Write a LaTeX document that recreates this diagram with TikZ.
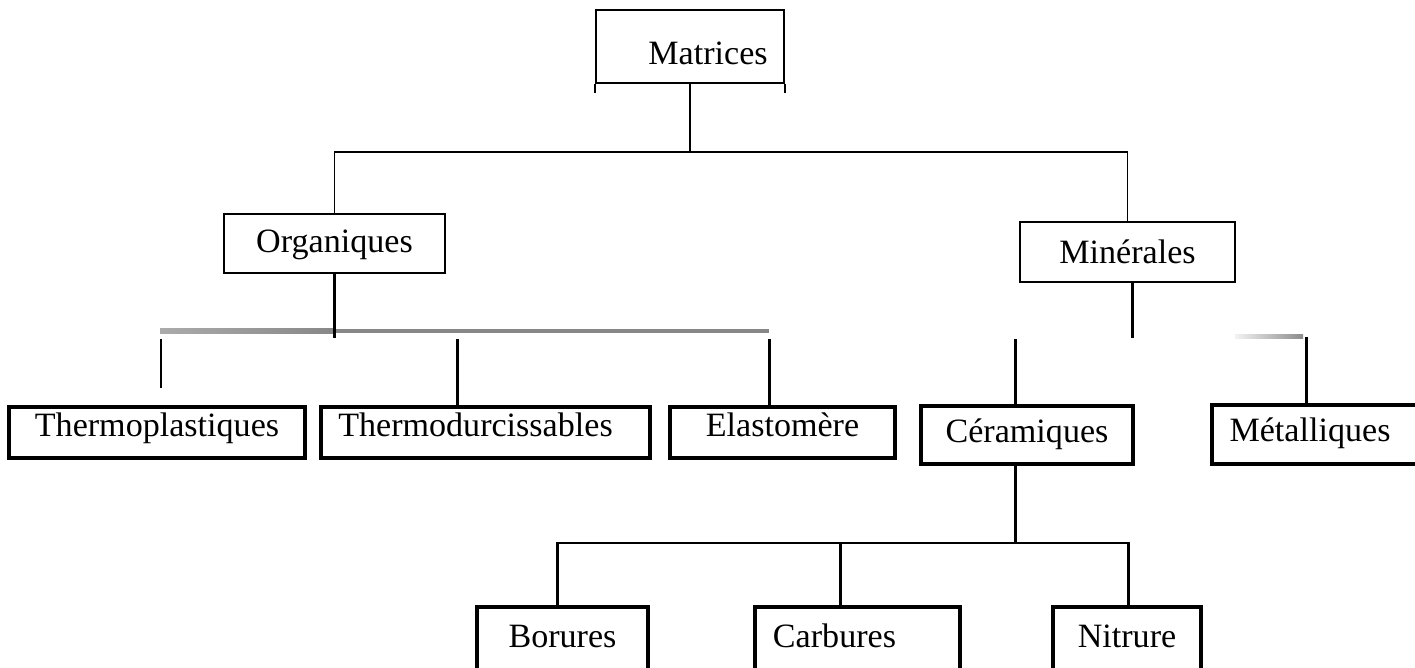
\documentclass[tikz,border=0pt]{standalone}
\usepackage{fontspec}
\setmainfont{Liberation Serif}

\begin{document}
\begin{tikzpicture}[x=0.02cm, y=-0.02cm,
    every node/.style={font=\fontsize{19.4pt}{23pt}\selectfont, inner sep=0pt,
      text height=13pt, text depth=8pt},
    topbox/.style={draw, line width=1.15pt},
    subbox/.style={draw, line width=1.85pt},
    thinline/.style={line width=0.95pt},
    thickline/.style={line width=1.7pt},
    barshade/.style={left color=black!33, right color=black!47}]

    \useasboundingbox (0,0) rectangle (1415,668);
    \clip (0,0) rectangle (1415,668);

    % Matrices
    \node[topbox, minimum width=3.76cm, minimum height=1.46cm,
      text height=21pt, text depth=0pt] (mat) at (690,46.5) {\hspace*{0.72cm}Matrices};
    \draw[line width=1.15pt] (mat.south west) -- ++(0,9);
    \draw[line width=1.15pt] (mat.south east) -- ++(0,9);

    % Organiques / Minerales
    \node[topbox, minimum width=4.42cm, minimum height=1.18cm,
      text height=16pt, text depth=5.2pt] (org) at (334.5,243.5) {Organiques};
    \node[topbox, minimum width=4.30cm, minimum height=1.20cm,
      text height=18pt, text depth=4.4pt] (min) at (1127.5,252) {Minérales};

    % Liaisons du haut
    \coordinate (jmat) at (690,152);
    \coordinate (jorg) at (334.5,152);
    \coordinate (jmin) at (1127.5,152);
    \draw[thinline] (mat.south) -- (jmat);
    \draw[thinline] (org.north) -- (jorg) -- (jmin) -- (min.north);

    % Matrices organiques
    \node[subbox, minimum width=5.92cm, minimum height=1.02cm] (thp) at (157,432.5) {Thermoplastiques};
    \node[subbox, minimum width=6.58cm, minimum height=1.02cm] (thd) at (485.5,432.5) {Thermodurcissables\hspace*{0.4cm}};
    \node[subbox, minimum width=4.50cm, minimum height=1.02cm] (ela) at (782.5,432.5) {Elastomère};

    % Barre grise
    \coordinate (barA) at (160,329);
    \coordinate (barB) at (334,333.5);
    \coordinate (barC) at (769,329);
    \shade[barshade] (barA) rectangle (barB);
    \fill[black!47] (barB) rectangle (barC);

    \coordinate (orgend) at (334.5,338);
    \draw[thickline] (org.south) -- (orgend);
    \coordinate (thpup) at (161,339);
    \coordinate (thpdn) at (161,388);
    \draw[thickline] (thpup) -- (thpdn);
    \coordinate (thdup) at (457,339);
    \draw[thickline] (thdup) -- (thdup |- thd.north);
    \coordinate (elaup) at (769,339);
    \draw[thickline] (elaup) -- (elaup |- ela.north);

    % Matrices minerales
    \node[subbox, minimum width=4.24cm, minimum height=1.16cm,
      text height=15pt, text depth=7pt] (cer) at (1027,435) {Céramiques};
    \node[subbox, minimum width=4.16cm, minimum height=1.18cm,
      text height=15pt, text depth=7pt] (met) at (1316,434.5) {Métalliques\hspace*{0.24cm}};

    \coordinate (minend) at (1132,338);
    \draw[thickline] (min.south -| minend) -- (minend);
    \coordinate (cerup) at (1015,339);
    \draw[thickline] (cerup) -- (cerup |- cer.north);
    \coordinate (metA) at (1235,335);
    \coordinate (metB) at (1303,339);
    \shade[left color=black!5, right color=black!45] (metA) rectangle (metB);
    \coordinate (metup) at (1306,337);
    \draw[thickline] (metup) -- (metup |- met.north);

    % Ceramiques
    \node[subbox, minimum width=3.42cm, minimum height=1.46cm] (bor) at (562.5,643.5) {Borures};
    \node[subbox, minimum width=4.10cm, minimum height=1.46cm] (car) at (857.5,643.5) {Carbures\hspace*{0.92cm}};
    \node[subbox, minimum width=2.96cm, minimum height=1.46cm] (nit) at (1127,643.5) {Nitrure};

    \coordinate (jcer) at (1015,543);
    \coordinate (jbor) at (557,543);
    \coordinate (jcar) at (840,543);
    \coordinate (jnit) at (1128,543);
    \draw[thickline] (cer.south -| jcer) -- (jcer);
    \draw[thickline] (jbor |- bor.north) -- (jbor) -- (jnit) -- (jnit |- nit.north);
    \draw[thickline] (jcar) -- (jcar |- car.north);

\end{tikzpicture}
\end{document}
